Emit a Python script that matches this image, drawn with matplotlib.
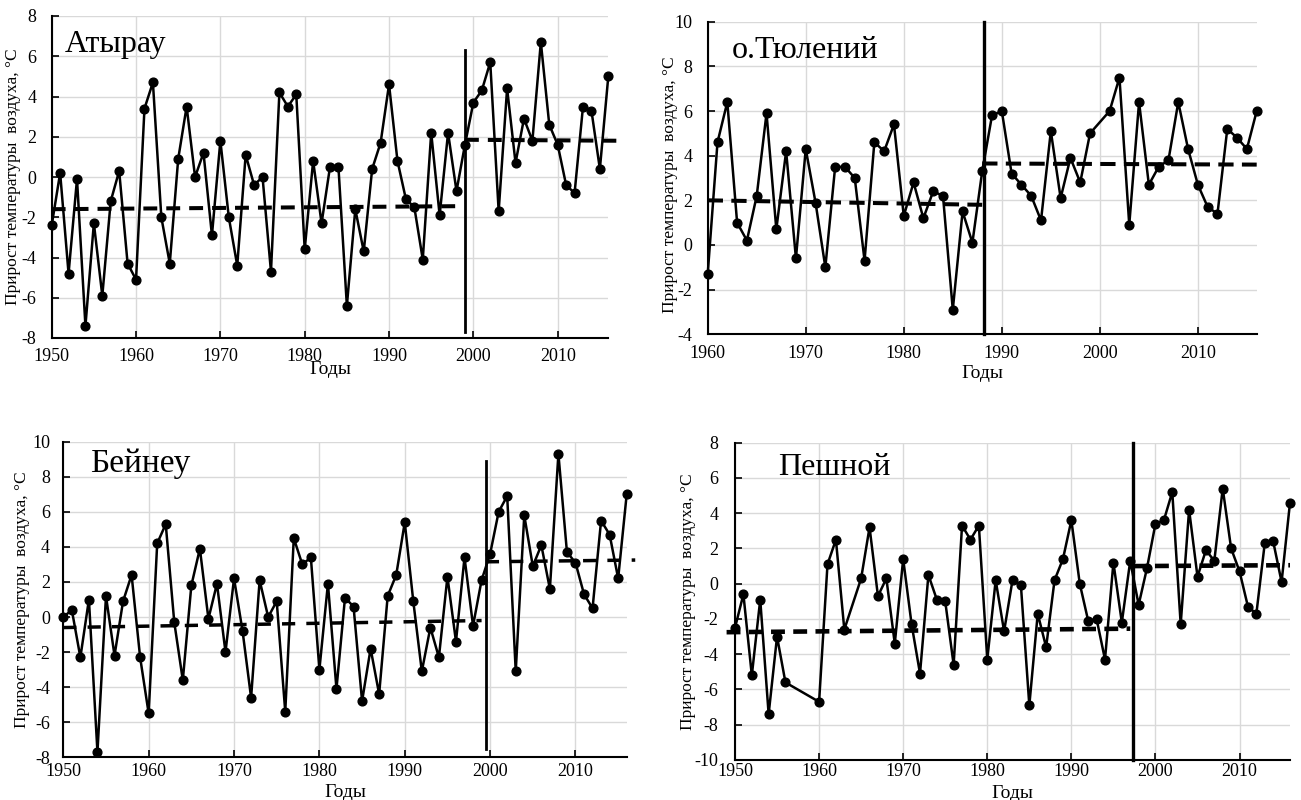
import matplotlib
matplotlib.use("Agg")
import matplotlib.pyplot as plt

plt.rcParams["font.family"] = ["Liberation Serif", "DejaVu Serif"]
plt.rcParams["axes.unicode_minus"] = False
plt.rcParams["lines.scale_dashes"] = False

# ---- Атырау ----
atyrau_years = [
    1950, 1951, 1952, 1953, 1954, 1955, 1956, 1957, 1958, 1959,
    1960, 1961, 1962, 1963, 1964, 1965, 1966, 1967, 1968, 1969,
    1970, 1971, 1972, 1973, 1974, 1975, 1976, 1977, 1978, 1979,
    1980, 1981, 1982, 1983, 1984, 1985, 1986, 1987, 1988, 1989,
    1990, 1991, 1992, 1993, 1994, 1995, 1996, 1997, 1998, 1999,
    2000, 2001, 2002, 2003, 2004, 2005, 2006, 2007, 2008, 2009,
    2010, 2011, 2012, 2013, 2014, 2015, 2016]
atyrau_values = [
    -2.4, 0.2, -4.8, -0.1, -7.4, -2.3, -5.9, -1.2, 0.3, -4.3,
    -5.1, 3.4, 4.7, -2.0, -4.3, 0.9, 3.5, 0.0, 1.2, -2.9,
    1.8, -2.0, -4.4, 1.1, -0.4, 0.0, -4.7, 4.2, 3.5, 4.1,
    -3.6, 0.8, -2.3, 0.5, 0.5, -6.4, -1.6, -3.7, 0.4, 1.7,
    4.6, 0.8, -1.1, -1.5, -4.1, 2.2, -1.9, 2.2, -0.7, 1.6,
    3.7, 4.3, 5.7, -1.7, 4.4, 0.7, 2.9, 1.8, 6.7, 2.6,
    1.6, -0.4, -0.8, 3.5, 3.3, 0.4, 5.0]
atyrau_trend1 = ([1950, 1998], [-1.6, -1.45])
atyrau_trend2 = ([1999, 2017.8], [1.85, 1.8])
atyrau_break = (1999, -7.7, 6.3)

# ---- о.Тюлений ----
tyuleniy_years = [
    1960, 1961, 1962, 1963, 1964, 1965, 1966, 1967, 1968, 1969,
    1970, 1971, 1972, 1973, 1974, 1975, 1976, 1977, 1978, 1979,
    1980, 1981, 1982, 1983, 1984, 1985, 1986, 1987, 1988, 1989,
    1990, 1991, 1992, 1993, 1994, 1995, 1996, 1997, 1998, 1999,
    2001, 2002, 2003, 2004, 2005, 2006, 2007, 2008, 2009,
    2010, 2011, 2012, 2013, 2014, 2015, 2016]
tyuleniy_values = [
    -1.3, 4.6, 6.4, 1.0, 0.2, 2.2, 5.9, 0.7, 4.2, -0.6,
    4.3, 1.9, -1.0, 3.5, 3.5, 3.0, -0.7, 4.6, 4.2, 5.4,
    1.3, 2.8, 1.2, 2.4, 2.2, -2.9, 1.5, 0.1, 3.3, 5.8,
    6.0, 3.2, 2.7, 2.2, 1.1, 5.1, 2.1, 3.9, 2.8, 5.0,
    6.0, 7.5, 0.9, 6.4, 2.7, 3.5, 3.8, 6.4, 4.3,
    2.7, 1.7, 1.4, 5.2, 4.8, 4.3, 6.0]
tyuleniy_trend1 = ([1960, 1988], [2.0, 1.8])
tyuleniy_trend2 = ([1988, 2016], [3.65, 3.6])
tyuleniy_break = (1988.2, -4, 10)

# ---- Бейнеу ----
beineu_years = list(atyrau_years)
beineu_values = [
    0.0, 0.4, -2.3, 1.0, -7.7, 1.2, -2.2, 0.9, 2.4, -2.3,
    -5.5, 4.2, 5.3, -0.3, -3.6, 1.8, 3.9, -0.1, 1.9, -2.0,
    2.2, -0.8, -4.6, 2.1, 0.0, 0.9, -5.4, 4.5, 3.0, 3.4,
    -3.0, 1.9, -4.1, 1.1, 0.6, -4.8, -1.8, -4.4, 1.2, 2.4,
    5.4, 0.9, -3.1, -0.6, -2.3, 2.3, -1.4, 3.4, -0.5, 2.1,
    3.6, 6.0, 6.9, -3.1, 5.8, 2.9, 4.1, 1.6, 9.3, 3.7,
    3.1, 1.3, 0.5, 5.5, 4.7, 2.2, 7.0]
beineu_trend1 = ([1950, 1999], [-0.6, -0.2])
beineu_trend2 = ([1999.5, 2017], [3.15, 3.25])
beineu_break = (1999.5, -7.5, 8.9)

# ---- Пешной ----
peshnoy_years = [
    1950, 1951, 1952, 1953, 1954, 1955, 1956,
    1960, 1961, 1962, 1963,
    1965, 1966, 1967, 1968, 1969,
    1970, 1971, 1972, 1973, 1974, 1975, 1976, 1977, 1978, 1979,
    1980, 1981, 1982, 1983, 1984, 1985, 1986, 1987, 1988, 1989,
    1990, 1991, 1992, 1993, 1994, 1995, 1996, 1997, 1998, 1999,
    2000, 2001, 2002, 2003, 2004, 2005, 2006, 2007, 2008, 2009,
    2010, 2011, 2012, 2013, 2014, 2015, 2016]
peshnoy_values = [
    -2.5, -0.6, -5.2, -0.9, -7.4, -3.0, -5.6,
    -6.7, 1.1, 2.5, -2.6,
    0.3, 3.2, -0.7, 0.3, -3.4,
    1.4, -2.3, -5.1, 0.5, -0.9, -1.0, -4.6, 3.3, 2.5, 3.3,
    -4.3, 0.2, -2.7, 0.2, -0.1, -6.9, -1.7, -3.6, 0.2, 1.4,
    3.6, 0.0, -2.1, -2.0, -4.3, 1.2, -2.2, 1.3, -1.2, 0.9,
    3.4, 3.6, 5.2, -2.3, 4.2, 0.4, 1.9, 1.3, 5.4, 2.0,
    0.7, -1.3, -1.7, 2.3, 2.4, 0.1, 4.6]
peshnoy_trend1 = ([1949, 1997], [-2.75, -2.55])
peshnoy_trend2 = ([1997.3, 2016], [1.0, 1.05])
peshnoy_break = (1997.3, -10, 8)

y_label = "Прирост температуры  воздуха, °С"
x_label = "Годы"

W, H = 1301, 800
fig = plt.figure(figsize=(W / 100, H / 100), dpi=100)


def px_axes(left, top, right, bottom):
    return fig.add_axes([left / W, 1 - bottom / H, (right - left) / W, (bottom - top) / H])


panels = [
    dict(box=(51.7, 16, 608.3, 338), title="Атырау", title_xy=(0.024, 0.889), title_size=23,
         years=atyrau_years, values=atyrau_values, trends=(atyrau_trend1, atyrau_trend2),
         brk=atyrau_break, brk_lw=2.0, xlim=(1950, 2016), ylim=(-8, 8),
         xpad=7, ypad=11, ylab_x=-0.069, ylab_y=0.5, xlab_y=-0.097,
         dash=(10, 6.5), dlw=2.9),
    dict(box=(707.7, 21.7, 1256.7, 334.3), title="о.Тюлений", title_xy=(0.044, 0.884), title_size=23,
         years=tyuleniy_years, values=tyuleniy_values, trends=(tyuleniy_trend1, tyuleniy_trend2),
         brk=tyuleniy_break, brk_lw=2.4, xlim=(1960, 2016), ylim=(-4, 10),
         xpad=8, ypad=11, ylab_x=-0.068, ylab_y=0.48, xlab_y=-0.124,
         dash=(11, 6), dlw=2.9),
    dict(box=(63.3, 441.7, 626.7, 757.3), title="Бейнеу", title_xy=(0.047, 0.904), title_size=24,
         years=beineu_years, values=beineu_values, trends=(beineu_trend1, beineu_trend2),
         brk=beineu_break, brk_lw=2.0, xlim=(1950, 2016), ylim=(-8, 10),
         xpad=4, ypad=9.5, ylab_x=-0.073, ylab_y=0.5, xlab_y=-0.11,
         dash=(9.5, 8), dlw=2.5),
    dict(box=(735, 442.7, 1290, 760), title="Пешной", title_xy=(0.0775, 0.898), title_size=23,
         years=peshnoy_years, values=peshnoy_values, trends=(peshnoy_trend1, peshnoy_trend2),
         brk=peshnoy_break, brk_lw=2.4, xlim=(1950, 2016), ylim=(-10, 8),
         xpad=2.5, ypad=12, ylab_x=-0.085, ylab_y=0.5, xlab_y=-0.107,
         dash=(10, 6), dlw=3.3),
]

for p in panels:
    ax = px_axes(*p["box"])
    ax.set_xlim(*p["xlim"])
    ax.set_ylim(*p["ylim"])
    ax.set_xticks(range(p["xlim"][0], p["xlim"][1] + 1, 10))
    ax.set_yticks(range(p["ylim"][0], p["ylim"][1] + 1, 2))
    ax.grid(True, color="#d9d9d9", lw=1.0, zorder=0)
    ax.set_axisbelow(True)
    for s in ("top", "right"):
        ax.spines[s].set_visible(False)
    for s in ("left", "bottom"):
        ax.spines[s].set_linewidth(1.5)
        ax.spines[s].set_zorder(5)
    ax.tick_params(axis="x", direction="in", length=5, width=1.2, labelsize=13, pad=p["xpad"])
    ax.tick_params(axis="y", direction="in", length=5, width=1.2, labelsize=13, pad=p["ypad"])

    ax.plot(p["years"], p["values"], color="black", lw=1.8, marker="o", ms=6.3,
            zorder=3, clip_on=False)
    for tx, ty in p["trends"]:
        ax.plot(tx, ty, color="black", lw=p["dlw"], dashes=p["dash"], zorder=4,
                clip_on=False, solid_capstyle="butt", dash_capstyle="butt")
    bx, by0, by1 = p["brk"]
    ax.plot([bx, bx], [by0, by1], color="black", lw=p["brk_lw"], zorder=4, clip_on=False)

    ax.text(p["title_xy"][0], p["title_xy"][1], p["title"], transform=ax.transAxes,
            fontsize=p["title_size"], ha="left", va="baseline", zorder=6)
    ax.text(p["ylab_x"], p["ylab_y"], y_label, transform=ax.transAxes, rotation=90,
            fontsize=12.5, ha="center", va="center")
    ax.text(0.5, p["xlab_y"], x_label, transform=ax.transAxes,
            fontsize=14, ha="center", va="center")

fig.savefig("out.png", dpi=100)
